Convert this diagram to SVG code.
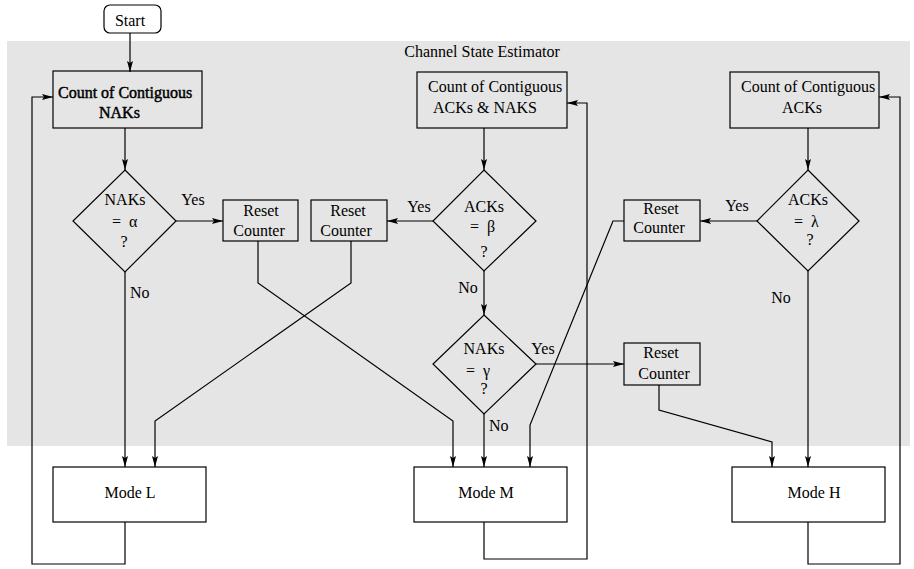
<svg xmlns="http://www.w3.org/2000/svg" width="914" height="569" viewBox="0 0 914 569">
<defs>
<marker id="ah" markerUnits="userSpaceOnUse" markerWidth="12" markerHeight="8" refX="11" refY="4" orient="auto">
<path d="M0,1 L11,4 L0,7 L2,4 Z" fill="#000"/>
</marker>
<style>
text{font-family:"Liberation Serif","Times New Roman",serif;font-size:16px;fill:#000}
.m{text-anchor:middle}
.box{fill:none;stroke:#000;stroke-width:1.2}
.wbox{fill:#fff;stroke:#000;stroke-width:1.2}
.c{fill:none;stroke:#000;stroke-width:1.2}
.a{marker-end:url(#ah)}
</style>
</defs>
<rect x="0" y="0" width="914" height="569" fill="#fff"/>
<rect id="estimator" x="7" y="41" width="903" height="405" fill="#e5e5e5"/>
<text class="m" x="482" y="57">Channel State Estimator</text>

<g id="start"><rect class="wbox" x="104" y="5" width="57" height="28" rx="6"/><text class="m" x="130" y="26">Start</text></g>

<g id="countNAK"><rect class="box" x="53" y="71" width="149" height="57"/>
<text x="58" y="98" stroke="#000" stroke-width="0.45">Count of Contiguous</text>
<text x="99" y="118" stroke="#000" stroke-width="0.45">NAKs</text></g>

<g id="countACKNAK"><rect class="box" x="417" y="72" width="150" height="56"/>
<text x="428" y="92">Count of Contiguous</text>
<text x="433" y="113">ACKs &amp; NAKS</text></g>

<g id="countACK"><rect class="box" x="730" y="72" width="149" height="56"/>
<text x="741" y="92">Count of Contiguous</text>
<text class="m" x="802" y="113">ACKs</text></g>

<g id="dAlpha"><polygon class="box" points="125,170 176,221 125,272 73,221"/>
<text class="m" x="125" y="205">NAKs</text>
<text x="112" y="227" xml:space="preserve">=  α</text>
<text class="m" x="124" y="247">?</text></g>

<g id="dBeta"><polygon class="box" points="484,170 536,221 484,271 433,221"/>
<text class="m" x="484" y="212">ACKs</text>
<text x="470" y="232" xml:space="preserve">=  β</text>
<text class="m" x="484" y="257">?</text></g>

<g id="dGamma"><polygon class="box" points="484,315 536,364 484,414 433,364"/>
<text class="m" x="484" y="354">NAKs</text>
<text x="466" y="376" xml:space="preserve">=  γ</text>
<text class="m" x="484" y="394">?</text></g>

<g id="dLambda"><polygon class="box" points="808,170 859,221 808,271 757,221"/>
<text class="m" x="808" y="205">ACKs</text>
<text x="794" y="227" xml:space="preserve">=  λ</text>
<text class="m" x="810" y="245">?</text></g>

<g id="reset1"><rect class="box" x="223" y="200" width="75" height="41"/>
<text class="m" x="261" y="216">Reset</text><text class="m" x="259" y="236">Counter</text></g>
<g id="reset2"><rect class="box" x="311" y="200" width="76" height="41"/>
<text class="m" x="348" y="216">Reset</text><text class="m" x="346" y="236">Counter</text></g>
<g id="reset3"><rect class="box" x="624" y="343" width="76" height="42"/>
<text class="m" x="661" y="358">Reset</text><text class="m" x="664" y="379">Counter</text></g>
<g id="reset4"><rect class="box" x="624" y="200" width="76" height="41"/>
<text class="m" x="661" y="214">Reset</text><text class="m" x="659" y="233">Counter</text></g>

<g id="modeL"><rect class="wbox" x="53" y="467" width="153" height="55"/><text class="m" x="130" y="498">Mode L</text></g>
<g id="modeM"><rect class="wbox" x="414" y="467" width="153" height="55"/><text class="m" x="486" y="498">Mode M</text></g>
<g id="modeH"><rect class="wbox" x="732" y="467" width="153" height="55"/><text class="m" x="814" y="498">Mode H</text></g>

<g id="connectors">
<path class="c a" d="M130,33 L130,72"/>
<path class="c a" d="M125,128 L125,170"/>
<path class="c a" d="M176,221 L223,221"/>
<path class="c a" d="M125,272 L125,467"/>
<path class="c a" d="M258,241 L258,283 L453,421 L453,467"/>
<path class="c a" d="M351,241 L351,283 L155,421 L155,467"/>
<path class="c a" d="M484,128 L484,170"/>
<path class="c a" d="M433,221 L387,221"/>
<path class="c a" d="M484,271 L484,315"/>
<path class="c a" d="M536,364 L624,364"/>
<path class="c a" d="M484,414 L484,467"/>
<path class="c a" d="M659,385 L659,410 L772,442 L772,467"/>
<path class="c a" d="M624,221 L613,221 L530,425 L530,467"/>
<path class="c a" d="M808,128 L808,170"/>
<path class="c a" d="M757,221 L700,221"/>
<path class="c a" d="M808,271 L808,467"/>
<path class="c a" d="M125,522 L125,564 L32,564 L32,97 L53,97"/>
<path class="c a" d="M484,522 L484,559 L587,559 L587,103 L567,103"/>
<path class="c a" d="M808,522 L808,564 L900,564 L900,97 L879,97"/>
<text class="m" x="193" y="205">Yes</text>
<text x="130" y="298">No</text>
<text class="m" x="419" y="212">Yes</text>
<text class="m" x="468" y="293">No</text>
<text class="m" x="543" y="354">Yes</text>
<text x="489" y="431">No</text>
<text class="m" x="737" y="211">Yes</text>
<text class="m" x="781" y="303">No</text>
</g>
</svg>
